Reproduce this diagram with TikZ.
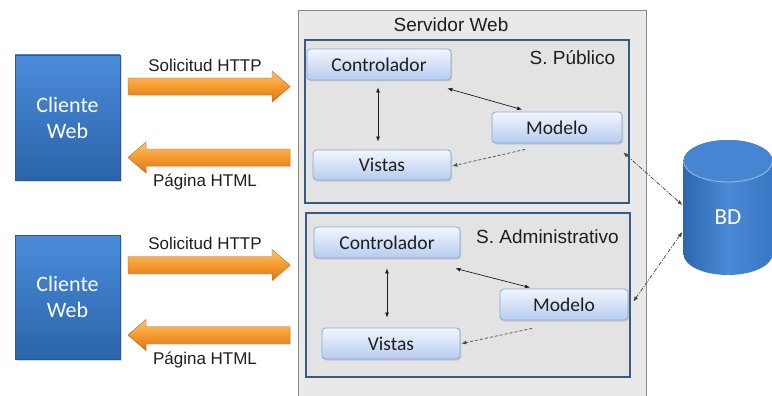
\documentclass[tikz,border=0pt]{standalone}
\usepackage{fontspec}
\setmainfont{Liberation Sans}
\newfontfamily\calib{Carlito}
\usetikzlibrary{shadows,arrows.meta}

\definecolor{srvfill}{HTML}{E9E9E9}
\definecolor{srvline}{HTML}{8A8A8A}
\definecolor{zonefill}{HTML}{E3E3E3}
\definecolor{zoneline}{HTML}{3A5A82}
\definecolor{compline}{HTML}{86A8DA}
\definecolor{comptop}{HTML}{F2F6FD}
\definecolor{compbot}{HTML}{B7CCEF}
\definecolor{clitop}{HTML}{4B8CDA}
\definecolor{clibot}{HTML}{2B64AA}
\definecolor{cliline}{HTML}{2A5A95}
\definecolor{orgtop}{HTML}{FCC46E}
\definecolor{orgmid}{HTML}{F59A2E}
\definecolor{orgbot}{HTML}{D9761A}
\definecolor{dbleft}{HTML}{2E67B0}
\definecolor{dbmid}{HTML}{4A89D5}
\definecolor{dbright}{HTML}{3877C4}
\definecolor{dbtop}{HTML}{4585D2}
\definecolor{dbrim}{HTML}{93B8E8}
\definecolor{ink}{HTML}{1E1E1E}

\tikzset{
  serverbox/.style={draw=srvline, line width=0.8pt, fill=srvfill, inner sep=0pt},
  zone/.style={draw=zoneline, line width=2.5pt, fill=zonefill, inner sep=0pt},
  comp/.style={rounded corners=3.5pt, draw=compline, line width=0.8pt,
    top color=comptop, bottom color=compbot, inner sep=0pt,
    drop shadow={shadow xshift=1pt, shadow yshift=-1.5pt, opacity=0.25},
    font=\calib\fontsize{19.5}{22}\selectfont, text=ink},
  client/.style={draw=cliline, line width=0.8pt, top color=clitop, bottom color=clibot,
    inner sep=0pt, align=center, text=white,
    drop shadow={shadow xshift=1.5pt, shadow yshift=-1.5pt, opacity=0.3},
    font=\calib\fontsize{22}{26}\selectfont},
  flow/.style={top color=orgtop, bottom color=orgbot, middle color=orgmid,
    draw=orgbot!85!black, line width=0.4pt,
    drop shadow={shadow xshift=1pt, shadow yshift=-1.5pt, opacity=0.2}},
  flowlabel/.style={font=\fontsize{17}{19}\selectfont, text=ink, inner sep=0pt},
  title/.style={font=\fontsize{19}{22}\selectfont, text=ink, inner sep=0pt},
  link/.style={{Latex[length=5pt,width=4pt]}-{Latex[length=5pt,width=4pt]},
    line width=0.7pt, draw=ink},
  uselink/.style={-{Latex[length=5pt,width=4pt]}, line width=0.7pt, draw=ink!80,
    dash pattern=on 3pt off 2pt},
  dblink/.style={{Latex[length=5pt,width=4pt]}-{Latex[length=5pt,width=4pt]},
    line width=0.7pt, draw=ink!85, dash pattern=on 4pt off 1.5pt on 1pt off 1.5pt}
}

% block arrows: shaft 17pt thick, head 31pt tall and 18pt long
\newcommand\rightflow[1]{%
  \path[flow] (128,#1-8.5) -- (272,#1-8.5) -- (272,#1-15.5) -- (290,#1)
    -- (272,#1+15.5) -- (272,#1+8.5) -- (128,#1+8.5) -- cycle;}
\newcommand\leftflow[1]{%
  \path[flow] (290,#1-8.5) -- (146,#1-8.5) -- (146,#1-15.5) -- (128,#1)
    -- (146,#1+15.5) -- (146,#1+8.5) -- (290,#1+8.5) -- cycle;}

\begin{document}
\begin{tikzpicture}[x=1pt,y=-1pt]
\useasboundingbox (0,0) rectangle (772,396);
\clip (0,0) rectangle (772,396);
\fill[white] (0,0) rectangle (772,396);

% web server container
\node[serverbox, anchor=north west, minimum width=348pt, minimum height=400pt] (srv) at (298,10) {};
\node[title] (srvtitle) at (451,25) {Servidor Web};

% public and administrative zones
\node[zone, minimum width=324pt, minimum height=163pt] (pub) at (467,121.5) {};
\node[zone, minimum width=324pt, minimum height=164pt] (adm) at (468,295) {};
\node[title] (pubtitle) at (572.5,58) {S. Público};
\node[title] (admtitle) at (547.5,237) {S. Administrativo};

% MVC components, public side
\node[comp, minimum width=144pt, minimum height=31pt] (c1) at (379,64.5) {Controlador};
\node[comp, minimum width=138pt, minimum height=30pt] (v1) at (382,165) {Vistas};
\node[comp, minimum width=130pt, minimum height=31pt] (m1) at (557,127.5) {Modelo};

% MVC components, administrative side
\node[comp, minimum width=146pt, minimum height=31pt] (c2) at (387,242.5) {Controlador};
\node[comp, minimum width=138pt, minimum height=31pt] (v2) at (391,343.5) {Vistas};
\node[comp, minimum width=128pt, minimum height=31pt] (m2) at (564,304.5) {Modelo};

% relations inside each zone
\draw[link] ([shift={(-1,7)}]c1.south) -- ([shift={(-1,-8)}]c1.south |- v1.north);
\draw[link] ([shift={(-4,8)}]c1.south east) -- ([shift={(-35,-2)}]m1.north);
\draw[uselink] ([shift={(-32,6)}]m1.south) -- ([shift={(1,1)}]v1.east);

\draw[link] ([shift={(0,10)}]c2.south) -- ([shift={(0,-10)}]c2.south |- v2.north);
\draw[link] ([shift={(-5,10)}]c2.south east) -- ([shift={(-34,-1)}]m2.north);
\draw[uselink] ([shift={(-32,8)}]m2.south) -- ([shift={(1,0)}]v2.east);

% clients
\node[client, minimum width=105pt, minimum height=125pt] (cl1) at (67.5,117.5) {Cliente\\Web};
\node[client, minimum width=105pt, minimum height=124pt] (cl2) at (67.5,297) {Cliente\\Web};

% request / response flows
\rightflow{86.5}
\leftflow{157.5}
\rightflow{265}
\leftflow{335}
\node[flowlabel] (reqlbl1) at (205,65) {Solicitud HTTP};
\node[flowlabel] (resplbl1) at (205,182) {Página HTML};
\node[flowlabel] (reqlbl2) at (205,243) {Solicitud HTTP};
\node[flowlabel] (resplbl2) at (205,360) {Página HTML};

% database cylinder
\path[left color=dbleft, right color=dbright, middle color=dbmid]
  (683.5,161) -- (683.5,254) arc (180:360:44.5pt and 21pt)
  -- (772.5,161) arc (0:180:44.5pt and 21pt) -- cycle;
\fill[dbtop] (728,161) ellipse (44.5pt and 21pt);
\draw[dbrim, line width=0.9pt] (683.5,161) arc (180:360:44.5pt and 21pt);
\node[minimum width=89pt, minimum height=135pt, inner sep=0pt, text=white,
  font=\calib\fontsize{23}{26}\selectfont] (bd) at (728,217.5) {BD};

% model to database links
\draw[dblink] ([shift={(1,9)}]m1.south east) -- ([shift={(-1,-12.5)}]bd.west);
\draw[dblink] ([shift={(-1,14.5)}]bd.west) -- ([shift={(5,-3)}]m2.east);
\end{tikzpicture}
\end{document}
